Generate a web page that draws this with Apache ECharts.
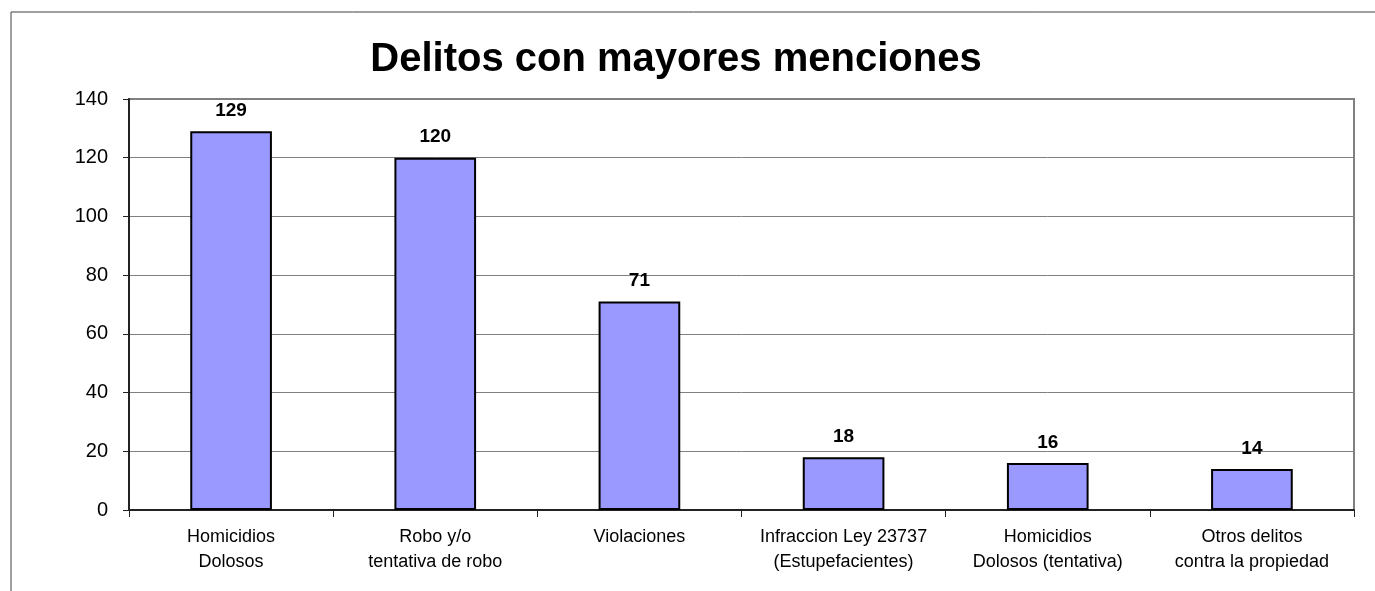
<!DOCTYPE html>
<html>
<head>
<meta charset="utf-8">
<script src="https://cdn.jsdelivr.net/npm/echarts@6/dist/echarts.min.js"></script>
<style>
html,body{margin:0;padding:0;background:#fff;}
#chart{width:1375px;height:591px;}
</style>
</head>
<body>
<div id="chart"></div>
<script>
const titleText = 'Delitos con mayores menciones';
const categories = [
  'Homicidios\nDolosos',
  'Robo y/o\ntentativa de robo',
  'Violaciones',
  'Infraccion Ley 23737\n(Estupefacientes)',
  'Homicidios\nDolosos (tentativa)',
  'Otros delitos\ncontra la propiedad'
];
const values = [129, 120, 71, 18, 16, 14];
const yMin = 0, yMax = 140, yStep = 20;

const chart = echarts.init(document.getElementById('chart'), null, {renderer: 'canvas'});
const font = 'Arial, "Liberation Sans", sans-serif';
chart.setOption({
  animation: false,
  backgroundColor: '#fff',
  graphic: [{
    type: 'rect',
    shape: {x: 11, y: 12, width: 1420, height: 700},
    style: {fill: 'none', stroke: '#404040', lineWidth: 1},
    silent: true, z: -1
  }, {
    type: 'text',
    x: 676, y: 60,
    style: {
      text: titleText, align: 'center', verticalAlign: 'middle',
      font: 'bold 40px Arial, "Liberation Sans", sans-serif', fill: '#000'
    },
    silent: true
  }],
  grid: {
    left: 129, right: 21, top: 99, bottom: 81,
    show: true, borderColor: '#808080', borderWidth: 2, backgroundColor: 'transparent'
  },
  xAxis: {
    type: 'category',
    data: categories,
    axisLine: {show: true, lineStyle: {color: '#222', width: 2}},
    axisTick: {show: true, alignWithLabel: false, length: 7, lineStyle: {color: '#222', width: 1}},
    axisLabel: {fontFamily: font, fontSize: 18, color: '#000', margin: 15, lineHeight: 25, interval: 0},
    splitLine: {show: false}
  },
  yAxis: {
    type: 'value',
    min: yMin, max: yMax, interval: yStep,
    axisLine: {show: true, lineStyle: {color: '#222', width: 2}},
    axisTick: {show: true, length: 6, lineStyle: {color: '#222', width: 1}},
    axisLabel: {fontFamily: font, fontSize: 20, color: '#000', margin: 21},
    splitLine: {show: true, lineStyle: {color: '#808080', width: 1}}
  },
  series: [{
    type: 'bar',
    data: values,
    barWidth: '40%',
    itemStyle: {color: '#9999FF', borderColor: '#000', borderWidth: 2},
    label: {
      show: true, position: 'top', distance: 11,
      fontFamily: font, fontSize: 19, fontWeight: 'bold', color: '#000'
    }
  }]
});
</script>
</body>
</html>
